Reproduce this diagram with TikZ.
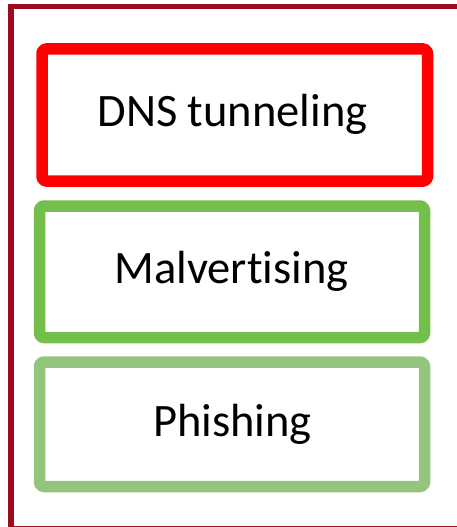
\documentclass[tikz,border=0pt]{standalone}
\usepackage{fontspec}
\setmainfont[Ligatures=NoCommon]{Carlito}
\definecolor{framered}{RGB}{155,10,30}
\definecolor{boxred}{RGB}{255,0,0}
\definecolor{boxgreen}{RGB}{116,190,76}
\definecolor{boxlightgreen}{RGB}{147,197,125}
\tikzset{
  item/.style={line width=11.5pt, rounded corners=4pt, line join=round},
  label/.style={font=\fontsize{46.5}{54}\selectfont, text=black, inner sep=0pt, anchor=base},
}
\begin{document}
\begin{tikzpicture}[x=1pt, y=-1pt]
  \useasboundingbox (0,0) rectangle (457,527);
  \clip (0,0) rectangle (457,527);
  % outer frame, running off the right and bottom edges
  \draw[framered, line width=5.5pt] (11,6.5) rectangle (470,529);
  % the three items
  \draw[item, boxred] (42,49) rectangle (427.5,181);
  \draw[item, boxgreen] (39.5,206) rectangle (424.5,337.5);
  \draw[item, boxlightgreen] (39.5,362) rectangle (424.5,486.5);
  \node[label] (dns) at (232.5,126.7) {DNS tunneling};
  \node[label] (mal) at (231.5,283.3) {Malvertising};
  \node[label] (phi) at (232.5,436.7) {Phishing};
\end{tikzpicture}
\end{document}
